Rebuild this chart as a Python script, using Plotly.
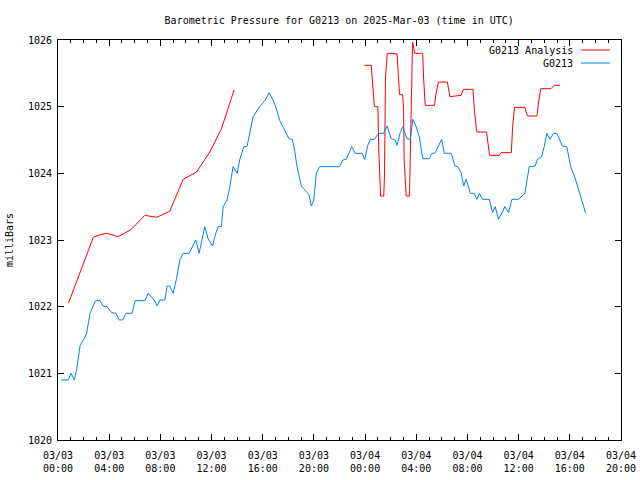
import plotly.graph_objects as go
import pandas as pd

# Hours since 2025-03-03 00:00 UTC and pressure (mb)
analysis_hours_a = [0.81, 1.8, 2.76, 3.28, 3.8, 4.71, 5.73, 6.79, 7.71, 8.73, 9.78, 10.83, 11.86, 12.78, 13.76]
analysis_press_a = [1022.05, 1022.55, 1023.04, 1023.08, 1023.1, 1023.05, 1023.16, 1023.37, 1023.34, 1023.43,
                    1023.91, 1024.02, 1024.32, 1024.67, 1025.25]

analysis_hours_b = [23.96, 24.48, 24.58, 24.73, 25.0, 25.07, 25.21, 25.46, 25.52, 25.59, 25.73, 26.5, 26.6, 26.69,
                    26.93, 27.01, 27.05, 27.21, 27.47, 27.51, 27.59, 27.71, 27.88, 28.5, 28.57, 28.7, 29.43, 29.53,
                    29.73, 30.43, 30.63, 31.49, 31.68, 32.43, 32.55, 32.73, 33.49, 33.58, 33.73, 34.48, 34.63,
                    35.43, 35.53, 35.68, 36.48, 36.69, 37.43, 37.58, 37.73, 38.53, 38.78, 39.23]
analysis_press_b = [1025.62, 1025.62, 1025.37, 1025.0, 1025.0, 1024.35, 1023.66, 1023.66, 1024.0, 1025.43, 1025.8,
                    1025.79, 1025.47, 1025.18, 1025.18, 1024.97, 1024.22, 1023.66, 1023.66, 1024.03, 1024.8,
                    1025.97, 1025.8, 1025.8, 1025.43, 1025.02, 1025.02, 1025.18, 1025.37, 1025.37, 1025.15,
                    1025.17, 1025.26, 1025.26, 1024.93, 1024.62, 1024.62, 1024.45, 1024.27, 1024.27, 1024.31,
                    1024.31, 1024.7, 1024.99, 1024.99, 1024.86, 1024.86, 1025.1, 1025.27, 1025.27, 1025.32, 1025.32]

obs_hours = [0.24, 0.81, 1.02, 1.28, 1.47, 1.73, 1.98, 2.23, 2.5, 2.93, 3.28, 3.53, 3.83, 4.19, 4.53, 4.79, 5.05,
             5.31, 5.78, 6.03, 6.79, 7.05, 7.5, 7.76, 7.96, 8.35, 8.53, 8.73, 9.0, 9.26, 9.53, 9.78, 10.25, 10.77,
             11.03, 11.29, 11.47, 11.73, 12.07, 12.33, 12.51, 12.77, 12.91, 13.21, 13.43, 13.68, 14.0, 14.2,
             14.52, 14.77, 14.98, 15.25, 15.76, 16.2, 16.5, 16.8, 17.07, 17.33, 17.71, 18.03, 18.31, 18.49,
             18.68, 18.88, 19.02, 19.41, 19.61, 19.8, 19.98, 20.19, 20.44, 22.0, 22.26, 22.53, 22.96, 23.23,
             23.77, 23.98, 24.21, 24.42, 24.73, 25.05, 25.43, 25.73, 26.03, 26.35, 26.5, 26.73, 26.94, 27.26,
             27.53, 27.73, 27.99, 28.23, 28.5, 29.03, 29.21, 29.46, 29.98, 30.2, 30.73, 31.03, 31.23, 31.5,
             31.71, 31.89, 32.23, 32.53, 32.73, 32.93, 33.18, 33.71, 33.96, 34.17, 34.43, 34.93, 35.21, 35.48,
             35.99, 36.49, 36.83, 37.29, 37.47, 37.79, 38.0, 38.2, 38.46, 38.72, 38.98, 39.42, 39.76, 40.07,
             40.46, 40.85, 41.24]
obs_press = [1020.9, 1020.9, 1021.0, 1020.9, 1021.07, 1021.42, 1021.5, 1021.59, 1021.9, 1022.09, 1022.09, 1022.01,
             1022.0, 1021.91, 1021.9, 1021.8, 1021.8, 1021.9, 1021.9, 1022.09, 1022.09, 1022.2, 1022.1, 1022.01,
             1022.1, 1022.1, 1022.31, 1022.31, 1022.2, 1022.42, 1022.71, 1022.8, 1022.8, 1023.0, 1022.8, 1023.02,
             1023.2, 1023.02, 1022.91, 1023.1, 1023.2, 1023.2, 1023.5, 1023.6, 1023.8, 1024.1, 1024.0, 1024.2,
             1024.4, 1024.4, 1024.6, 1024.85, 1025.0, 1025.1, 1025.21, 1025.1, 1024.97, 1024.79, 1024.65, 1024.52,
             1024.51, 1024.35, 1024.1, 1023.9, 1023.81, 1023.73, 1023.68, 1023.51, 1023.59, 1024.0, 1024.1, 1024.1,
             1024.2, 1024.21, 1024.4, 1024.3, 1024.3, 1024.21, 1024.42, 1024.51, 1024.51, 1024.6, 1024.6, 1024.71,
             1024.52, 1024.5, 1024.42, 1024.6, 1024.7, 1024.52, 1024.51, 1024.81, 1024.7, 1024.55, 1024.22,
             1024.22, 1024.3, 1024.3, 1024.51, 1024.3, 1024.3, 1024.11, 1024.1, 1024.01, 1023.81, 1023.91, 1023.7,
             1023.7, 1023.61, 1023.7, 1023.61, 1023.61, 1023.41, 1023.5, 1023.31, 1023.5, 1023.41, 1023.61,
             1023.61, 1023.7, 1024.1, 1024.11, 1024.21, 1024.25, 1024.4, 1024.6, 1024.51, 1024.6, 1024.6, 1024.41,
             1024.4, 1024.1, 1023.9, 1023.65, 1023.4]

tick_hours = [0, 4, 8, 12, 16, 20, 24, 28, 32, 36, 40, 44]
tick_labels = ["03/03<br>00:00", "03/03<br>04:00", "03/03<br>08:00", "03/03<br>12:00", "03/03<br>16:00",
               "03/03<br>20:00", "03/04<br>00:00", "03/04<br>04:00", "03/04<br>08:00", "03/04<br>12:00",
               "03/04<br>16:00", "03/04<br>20:00"]
y_ticks = [1020, 1021, 1022, 1023, 1024, 1025, 1026]

base = pd.Timestamp("2025-03-03 00:00")
def to_time(hours):
    return [base + pd.Timedelta(hours=h) for h in hours]

RED = "#ff0000"
BLUE = "#0080ff"
FONT = "DejaVu Sans Mono"

red_x = to_time(analysis_hours_a) + [None] + to_time(analysis_hours_b)
red_y = analysis_press_a + [None] + analysis_press_b

fig = go.Figure()
fig.add_trace(go.Scatter(x=red_x, y=red_y, mode="lines", name="G0213 Analysis",
                         line=dict(color=RED, width=1), connectgaps=False))
fig.add_trace(go.Scatter(x=to_time(obs_hours), y=obs_press, mode="lines", name="G0213",
                         line=dict(color=BLUE, width=1)))

fig.update_layout(
    width=640, height=480,
    margin=dict(l=58, r=19, t=40, b=40, autoexpand=False),
    paper_bgcolor="white", plot_bgcolor="white",
    showlegend=False,
    font=dict(family=FONT, size=10, color="black"),
    title=dict(text="Barometric Pressure for G0213 on 2025-Mar-03 (time in UTC)",
               x=0.53, xanchor="center", y=1 - 20 / 480, yanchor="middle",
               font=dict(family=FONT, size=10, color="black")),
)
fig.update_xaxes(
    type="date", automargin=False,
    range=[base, base + pd.Timedelta(hours=44)],
    tickvals=to_time(tick_hours), ticktext=tick_labels,
    ticks="inside", ticklen=6, tickcolor="black", tickwidth=1,
    ticklabelstandoff=6,
    minor=dict(dtick=3600000, ticks="inside", ticklen=3, tickcolor="black", tickwidth=1, showgrid=False),
    showline=True, linecolor="black", linewidth=1, mirror="ticks",
    showgrid=False, zeroline=False,
    tickfont=dict(family=FONT, size=10, color="black"),
)
fig.update_yaxes(
    automargin=False,
    range=[1020, 1026], tickvals=y_ticks,
    ticks="inside", ticklen=6, tickcolor="black", tickwidth=1,
    ticklabelstandoff=3,
    showline=True, linecolor="black", linewidth=1, mirror="ticks",
    showgrid=False, zeroline=False,
    title=dict(text="milliBars", font=dict(family=FONT, size=10, color="black"), standoff=12),
    tickfont=dict(family=FONT, size=10, color="black"),
)

# legend (gnuplot style: text then line sample)
legend_items = [("G0213 Analysis", RED, 50), ("G0213", BLUE, 63)]
for label, color, ypx in legend_items:
    yp = 1 - (ypx - 40) / 400
    fig.add_annotation(text=label, xref="paper", yref="paper", x=(575 - 58) / 563, y=yp,
                       xanchor="right", yanchor="middle", showarrow=False,
                       font=dict(family=FONT, size=10, color="black"))
    fig.add_shape(type="line", xref="paper", yref="paper",
                  x0=(581 - 58) / 563, x1=(610 - 58) / 563, y0=yp, y1=yp,
                  line=dict(color=color, width=1))

fig.write_html("out.html")
